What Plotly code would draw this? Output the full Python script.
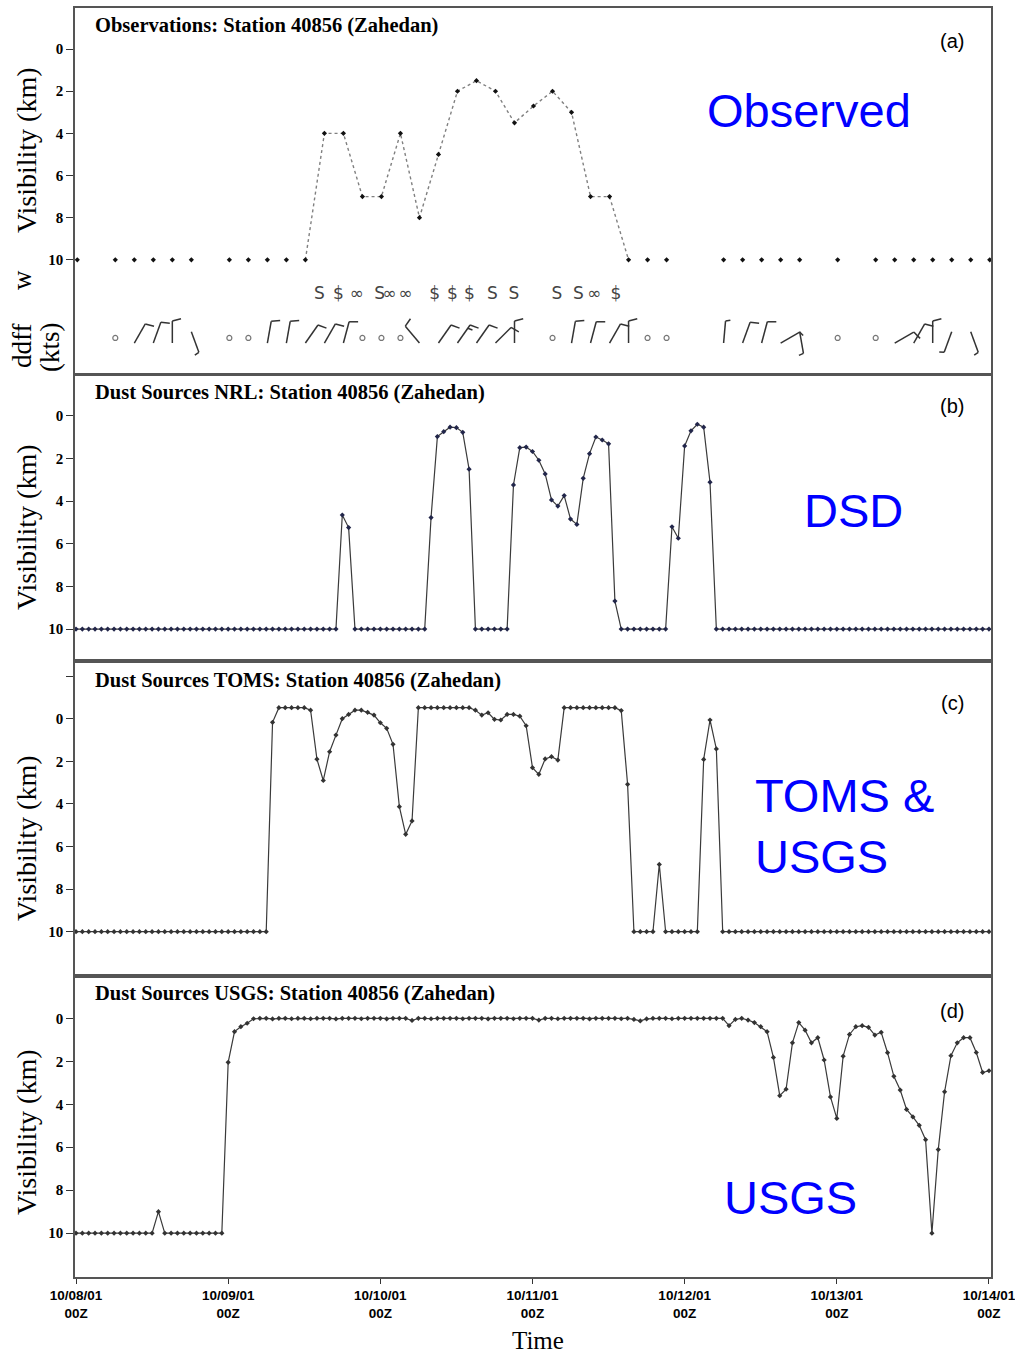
import math
import plotly.graph_objects as go

# ---------------- time axis (hours since 10/08/01 00Z) ----------------
day_hours = [0, 24, 48, 72, 96, 120, 144]
day_labels = ["10/08/01", "10/09/01", "10/10/01", "10/11/01", "10/12/01", "10/13/01", "10/14/01"]

# ---------------- (a) observations, 3-hourly ----------------
obs_hours = [0, 6, 9, 12, 15, 18, 24, 27, 30, 33, 36, 39, 42, 45, 48, 51, 54, 57, 60, 63, 66,
             69, 72, 75, 78, 81, 84, 87, 90, 93, 102, 105, 108, 111, 114, 120, 126, 129, 132,
             135, 138, 141, 144]
obs_vis = [10, 10, 10, 10, 10, 10, 10, 10, 10, 10, 10, 4, 4, 7, 7, 4, 8, 5, 2, 1.5, 2,
           3.5, 2.7, 2, 3, 7, 7, 10, 10, 10, 10, 10, 10, 10, 10, 10, 10, 10, 10,
           10, 10, 10, 10]
obs_line_from, obs_line_to = 36, 87   # hours joined by the dotted line

# present weather symbols
wx_hours = [38.2, 41.2, 44.1, 47.7, 49.3, 51.8, 56.4, 59.2, 61.9, 65.5, 68.9, 75.7, 79.1, 81.6, 85.0]
wx_symbols = ["S", "$", "∞", "S", "∞", "∞", "$", "$", "$", "S", "S", "S", "S", "∞", "$"]

# wind (direction deg, speed kts; 0 kts = calm)
wind_hours = [6, 9, 12, 15, 18, 24, 27, 30, 33, 36, 39, 42, 45, 48, 51, 54, 57, 60, 63, 66,
              69, 75, 78, 81, 84, 87, 90, 93, 102, 105, 108, 111, 114, 120, 126, 129, 132, 135, 138, 141]
wind_dir = [0, 30, 20, 0, 160, 0, 0, 10, 10, 35, 30, 15, 0, 0, 0, 320, 35, 35, 35, 45,
            0, 0, 10, 15, 30, 0, 0, 0, 5, 20, 15, 60, 170, 0, 0, 60, 30, 0, 200, 160]
wind_kts = [0, 10, 10, 10, 5, 0, 0, 10, 10, 10, 10, 10, 0, 0, 0, 10, 10, 15, 10, 10,
            10, 0, 10, 10, 10, 10, 0, 0, 5, 10, 10, 5, 5, 0, 0, 10, 10, 10, 5, 5]

# ---------------- hourly model series (0 .. 144 h) ----------------
model_hours = list(range(145))

nrl_vis = [
    10, 10, 10, 10, 10, 10, 10, 10, 10, 10, 10, 10,
    10, 10, 10, 10, 10, 10, 10, 10, 10, 10, 10, 10,
    10, 10, 10, 10, 10, 10, 10, 10, 10, 10, 10, 10,
    10, 10, 10, 10, 10, 10, 4.65, 5.24, 10, 10, 10, 10,
    10, 10, 10, 10, 10, 10, 10, 10, 4.77, 0.97, 0.74, 0.53,
    0.55, 0.77, 2.5, 10, 10, 10, 10, 10, 10, 3.24, 1.49, 1.46,
    1.67, 2.08, 2.72, 3.94, 4.23, 3.74, 4.84, 5.09, 2.93, 1.77, 0.99, 1.13,
    1.31, 8.69, 10, 10, 10, 10, 10, 10, 10, 10, 5.2, 5.74,
    1.41, 0.70, 0.39, 0.53, 3.11, 10, 10, 10, 10, 10, 10, 10,
    10, 10, 10, 10, 10, 10, 10, 10, 10, 10, 10, 10,
    10, 10, 10, 10, 10, 10, 10, 10, 10, 10, 10, 10,
    10, 10, 10, 10, 10, 10, 10, 10, 10, 10, 10, 10,
    10]

toms_vis = [
    10, 10, 10, 10, 10, 10, 10, 10, 10, 10, 10, 10,
    10, 10, 10, 10, 10, 10, 10, 10, 10, 10, 10, 10,
    10, 10, 10, 10, 10, 10, 10, 0.17, -0.52, -0.52, -0.52, -0.52,
    -0.52, -0.4, 1.9, 2.9, 1.55, 0.77, 0.0, -0.2, -0.4, -0.4, -0.3, -0.17,
    0.19, 0.45, 1.2, 4.13, 5.43, 4.8, -0.52, -0.52, -0.52, -0.52, -0.52, -0.52,
    -0.52, -0.52, -0.52, -0.4, -0.17, -0.28, 0.03, 0.06, -0.2, -0.2, -0.12, 0.33,
    2.3, 2.61, 1.89, 1.78, 1.94, -0.52, -0.52, -0.52, -0.52, -0.52, -0.52, -0.52,
    -0.52, -0.52, -0.38, 3.08, 10, 10, 10, 10, 6.84, 10, 10, 10,
    10, 10, 10, 1.91, 0.06, 1.42, 10, 10, 10, 10, 10, 10,
    10, 10, 10, 10, 10, 10, 10, 10, 10, 10, 10, 10,
    10, 10, 10, 10, 10, 10, 10, 10, 10, 10, 10, 10,
    10, 10, 10, 10, 10, 10, 10, 10, 10, 10, 10, 10,
    10]

usgs_vis = [
    10, 10, 10, 10, 10, 10, 10, 10, 10, 10, 10, 10,
    10, 9.0, 10, 10, 10, 10, 10, 10, 10, 10, 10, 10,
    2.05, 0.62, 0.39, 0.23, 0.02, 0.0, 0.0, 0.03, 0.0, 0.0, 0.02, 0.0,
    0.0, 0.02, 0.0, 0.0, 0.0, 0.03, 0.0, 0.0, 0.0, 0.02, 0.0, 0.0,
    0.0, 0.03, 0.0, 0.0, 0.0, 0.1, 0.0, 0.0, 0.02, 0.0, 0.0, 0.0,
    0.0, 0.02, 0.0, 0.0, 0.0, 0.03, 0.0, 0.0, 0.0, 0.02, 0.0, 0.0,
    0.0, 0.08, 0.0, 0.0, 0.02, 0.0, 0.0, 0.0, 0.0, 0.03, 0.0, 0.0,
    0.0, 0.0, 0.02, 0.0, 0.05, 0.12, 0.03, 0.0, 0.0, 0.0, 0.02, 0.0,
    0.0, 0.0, 0.0, 0.0, 0.0, 0.0, 0.0, 0.34, 0.05, 0.0, 0.08, 0.2,
    0.39, 0.62, 1.82, 3.6, 3.3, 1.14, 0.2, 0.55, 1.14, 0.9, 1.94, 3.66,
    4.66, 1.76, 0.75, 0.39, 0.34, 0.42, 0.78, 0.65, 1.6, 2.7, 3.34, 4.24,
    4.59, 4.98, 5.65, 10, 6.11, 3.42, 1.74, 1.14, 0.9, 0.9, 1.59, 2.52,
    2.44]

# ---------------- layout geometry (pixels) ----------------
W, H = 1015, 1354
ML, MR, MT, MB = 75, 24, 8, 77
PLOT_W = W - ML - MR
PLOT_H = H - MT - MB


def py(p):
    return (H - MB - p) / PLOT_H


def pxp(p):
    return (p - ML) / PLOT_W


XR_A = [-0.36, 144.2]
XR_M = [-0.16, 144.32]
YR_A = [15.42, -1.95]
YR_B = [11.5, -1.92]
YR_C = [12.08, -2.71]
YR_D = [12.04, -1.97]

PXH_A = PLOT_W / (XR_A[1] - XR_A[0])
PXV_A = (374 - 8) / (YR_A[0] - YR_A[1])

SERIF = "Liberation Serif"
SANS = "Liberation Sans"

fig = go.Figure()

# ---- panel (a) ----
seg_x = [h for h in obs_hours if obs_line_from <= h <= obs_line_to]
seg_y = [v for h, v in zip(obs_hours, obs_vis) if obs_line_from <= h <= obs_line_to]
fig.add_trace(go.Scatter(x=seg_x, y=seg_y, mode="lines", xaxis="x", yaxis="y",
                         line=dict(color="#808080", width=1.4, dash="dot"), hoverinfo="skip"))
fig.add_trace(go.Scatter(x=obs_hours, y=obs_vis, mode="markers", xaxis="x", yaxis="y",
                         marker=dict(symbol="diamond", size=4, color="#111111")))

# present weather
WX_ROW = 11.67
fig.add_trace(go.Scatter(x=wx_hours, y=[WX_ROW for _ in wx_hours], mode="text", text=wx_symbols,
                         xaxis="x", yaxis="y", textfont=dict(family="DejaVu Sans", size=17, color="#444444"),
                         hoverinfo="skip"))

# wind barbs
BASE_V = 13.95
CALM_V = 13.71
STAFF = 22.0
FEATH = 9.0
bx, by = [], []
cx, cy = [], []
for h, d, s in zip(wind_hours, wind_dir, wind_kts):
    if s == 0:
        cx.append(h)
        cy.append(CALM_V)
        continue
    th = math.radians(d)
    base_v = BASE_V if math.cos(th) >= 0 else CALM_V - 0.3
    x1 = h + STAFF * math.sin(th) / PXH_A
    v1 = base_v - STAFF * math.cos(th) / PXV_A
    bx += [h, x1, None]
    by += [base_v, v1, None]
    ph = th + math.radians(75)
    n_full = s // 10
    half = (s % 10) >= 5
    k = 0
    for i in range(n_full + (1 if half else 0)):
        length = FEATH if i < n_full else FEATH * 0.55
        dist = STAFF - 4.0 * k
        px_ = h + dist * math.sin(th) / PXH_A
        pv_ = base_v - dist * math.cos(th) / PXV_A
        ex = px_ + length * math.sin(ph) / PXH_A
        ev = pv_ - length * math.cos(ph) / PXV_A
        bx += [px_, ex, None]
        by += [pv_, ev, None]
        k += 1
fig.add_trace(go.Scatter(x=bx, y=by, mode="lines", xaxis="x", yaxis="y",
                         line=dict(color="#333333", width=1.5), hoverinfo="skip"))
fig.add_trace(go.Scatter(x=cx, y=cy, mode="markers", xaxis="x", yaxis="y",
                         marker=dict(symbol="circle-open", size=5, color="#777777", line=dict(width=1.2))))

# ---- panels (b), (c), (d) ----
for series, xa, ya, mcol in [(nrl_vis, "x2", "y2", "#22264a"),
                             (toms_vis, "x3", "y3", "#333333"),
                             (usgs_vis, "x4", "y4", "#333333")]:
    fig.add_trace(go.Scatter(x=model_hours, y=series, mode="lines+markers", xaxis=xa, yaxis=ya,
                             line=dict(color="#3a3a3a", width=1.2),
                             marker=dict(symbol="diamond", size=4, color=mcol)))

# ---------------- axes ----------------
FRAME = dict(showgrid=False, zeroline=False, showline=True, mirror=True,
             linecolor="#555555", linewidth=1.6, automargin=False)
YT = dict(ticks="outside", ticklen=7, tickwidth=1.2, tickcolor="#333333",
          tickfont=dict(family=SERIF, size=15, color="black", weight="bold"))
ticks_main = [0, 2, 4, 6, 8, 10]

fig.update_layout(
    width=W, height=H,
    margin=dict(l=ML, r=MR, t=MT, b=MB, autoexpand=False),
    paper_bgcolor="white", plot_bgcolor="white",
    showlegend=False,
    xaxis=dict(domain=[0, 1], range=XR_A, anchor="y", showticklabels=False, ticks="", **FRAME),
    xaxis2=dict(domain=[0, 1], range=XR_M, anchor="y2", showticklabels=False, ticks="", **FRAME),
    xaxis3=dict(domain=[0, 1], range=XR_M, anchor="y3", showticklabels=False, ticks="", **FRAME),
    xaxis4=dict(domain=[0, 1], range=XR_M, anchor="y4", tickvals=day_hours,
                ticktext=["<b>%s</b><br><b>00Z</b>" % d for d in day_labels],
                ticks="outside", ticklen=5, tickcolor="#333333", ticklabeloverflow="allow",
                tickfont=dict(family=SANS, size=13.5, color="black"), **FRAME),
    yaxis=dict(domain=[py(374), 1.0], range=YR_A, anchor="x", tickvals=ticks_main, **YT, **FRAME),
    yaxis2=dict(domain=[py(661), py(375)], range=YR_B, anchor="x2", tickvals=ticks_main, **YT, **FRAME),
    yaxis3=dict(domain=[py(976), py(661)], range=YR_C, anchor="x3", tickvals=[-2] + ticks_main,
                ticktext=[""] + [str(t) for t in ticks_main], **YT, **FRAME),
    yaxis4=dict(domain=[0, py(976)], range=YR_D, anchor="x4", tickvals=ticks_main, **YT, **FRAME),
)

# ---------------- text ----------------
ann = []


def add_text(text, x, y, size, family=SERIF, color="black", xanchor="center", angle=0, align="center"):
    ann.append(dict(text=text, x=pxp(x), y=py(y), xref="paper", yref="paper", showarrow=False,
                    xanchor=xanchor, yanchor="middle", textangle=angle, align=align,
                    font=dict(family=family, size=size, color=color)))


for cyp in [150, 527, 838, 1132]:
    add_text("Visibility (km)", 26, cyp, 28, angle=-90)
add_text("w", 22, 280, 27, angle=-90)
add_text("ddff", 22, 346, 27, angle=-90)
add_text("(kts)", 50, 347, 27, angle=-90)

titles = [("Observations: Station 40856 (Zahedan)", 25),
          ("Dust Sources NRL: Station 40856 (Zahedan)", 392),
          ("Dust Sources TOMS: Station 40856 (Zahedan)", 680),
          ("Dust Sources USGS: Station 40856 (Zahedan)", 993)]
for t, yy in titles:
    add_text("<b>%s</b>" % t, 93, yy, 20.5, xanchor="left")

for lab, yy in [("(a)", 41), ("(b)", 406), ("(c)", 703), ("(d)", 1011)]:
    add_text(lab, 952, yy, 20, family=SANS)

BLUE = "#0000ff"
add_text("Observed", 705, 110, 47, family=SANS, color=BLUE, xanchor="left")
add_text("DSD", 802, 510, 47, family=SANS, color=BLUE, xanchor="left")
add_text("TOMS &<br>USGS", 753, 826, 47, family=SANS, color=BLUE, xanchor="left", align="left")
add_text("USGS", 722, 1197, 47, family=SANS, color=BLUE, xanchor="left")
add_text("Time", 538, 1340, 25)

fig.update_layout(annotations=ann)
fig.write_html(
    "out.html",
    config={"displayModeBar": False},
    post_script="document.body.style.margin='0px';document.body.style.padding='0px';"
                "document.documentElement.style.overflow='hidden';",
)
